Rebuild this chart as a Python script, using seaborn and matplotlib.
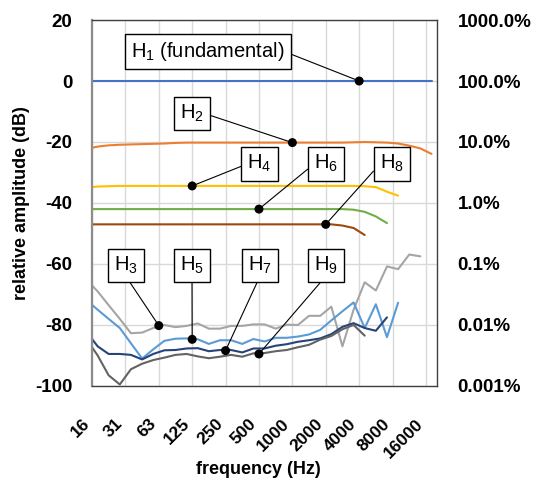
import numpy as np
import pandas as pd
import matplotlib
matplotlib.use("Agg")
import matplotlib.pyplot as plt
from matplotlib.transforms import ScaledTranslation
import seaborn as sns

# ---------------- data ----------------
freq = [16, 18, 22.6, 28.5, 35.9, 45.3, 57, 71.8, 90.5, 114, 143.7, 181, 228, 287,
        362, 456, 575, 724, 912, 1149, 1448, 1825, 2299, 2896, 3649, 4598, 5793,
        7298, 9195, 11585, 14596, 18390]

H1 = [0, 0, 0, 0, 0, 0, 0, 0, 0, 0, 0, 0, 0, 0, 0, 0, 0, 0, 0, 0, 0, 0, 0, 0,
      0, 0, 0, 0, 0, 0, 0, 0]
H2 = [-21.9, -21.5, -21.1, -20.9, -20.8, -20.7, -20.6, -20.5, -20.3, -20.2, -20.2,
      -20.2, -20.2, -20.2, -20.2, -20.2, -20.2, -20.2, -20.2, -20.2, -20.2, -20.2,
      -20.2, -20.2, -20.1, -20.0, -20.1, -20.2, -20.5, -21.2, -22.1, -23.9]
H4 = [-34.8, -34.6, -34.5, -34.4, -34.4, -34.4, -34.4, -34.4, -34.4, -34.4, -34.4,
      -34.4, -34.4, -34.4, -34.4, -34.4, -34.4, -34.4, -34.4, -34.4, -34.4, -34.4,
      -34.4, -34.4, -34.4, -34.5, -34.8, -36.3, -37.6]
H6 = [-42.0, -42.0, -42.0, -42.0, -42.0, -42.0, -42.0, -42.0, -42.0, -42.0, -42.0,
      -42.0, -42.0, -42.0, -42.0, -42.0, -42.0, -42.0, -42.0, -42.0, -42.0, -42.0,
      -42.0, -42.0, -42.2, -42.9, -44.4, -46.6]
H8 = [-47.0, -47.0, -47.0, -47.0, -47.0, -47.0, -47.0, -47.0, -47.0, -47.0, -47.0,
      -47.0, -47.0, -47.0, -47.0, -47.0, -47.0, -47.0, -47.0, -47.0, -47.0, -47.0,
      -47.0, -47.4, -48.2, -50.5]
H3 = [-67.0, -69.0, -73.5, -78.0, -82.7, -82.5, -81.0, -80.0, -80.7, -80.3, -79.5,
      -81.2, -81.2, -80.3, -80.3, -79.8, -79.8, -81.2, -79.9, -80.0, -77.0, -77.0,
      -74.0, -87.0, -75.0, -66.0, -68.7, -60.8, -61.7, -56.9, -57.5]
H5 = [-73.4, -75.0, -78.0, -81.0, -86.0, -91.0, -88.0, -85.2, -84.5, -84.4, -84.7,
      -86.2, -85.0, -85.0, -86.2, -84.6, -85.4, -84.2, -84.2, -83.8, -83.1, -81.6,
      -78.5, -75.5, -72.6, -81.0, -73.2, -84.0, -72.7]
H7 = [-84.6, -87.0, -89.5, -89.5, -89.8, -91.3, -89.5, -88.3, -88.2, -87.7, -87.6,
      -88.6, -88.2, -88.2, -89.0, -87.7, -87.7, -86.8, -86.3, -85.5, -85.0, -84.4,
      -83.0, -80.6, -79.4, -81.0, -81.9, -77.5]
H9 = [-87.3, -90.0, -96.5, -99.5, -94.5, -92.7, -91.5, -90.7, -89.8, -89.5, -90.3,
      -90.9, -90.4, -89.8, -90.4, -89.3, -89.2, -88.6, -88.2, -87.3, -86.5, -84.8,
      -83.6, -81.4, -80.0, -83.5]

series_names = ["H1", "H2", "H4", "H6", "H8", "H3", "H5", "H7", "H9"]
series_vals = [H1, H2, H4, H6, H8, H3, H5, H7, H9]
colors = ["#4472C4", "#ED7D31", "#FFC000", "#70AD47", "#9E480E",
          "#A5A5A5", "#5B9BD5", "#264478", "#636363"]

# annotation labels, anchor points (frequency, dB)
ann_labels = ["H$_1$ (fundamental)", "H$_2$", "H$_4$", "H$_6$", "H$_8$",
              "H$_3$", "H$_5$", "H$_7$", "H$_9$"]
ann_freq = [4096, 1024, 128, 512, 2048, 64, 128, 256, 512]
ann_db = [0, -20.2, -34.4, -42.0, -47.0, -80.2, -84.7, -88.4, -89.5]

xtick_vals = [16, 32, 64, 128, 256, 512, 1024, 2048, 4096, 8192, 16384]
xtick_labels = ["16", "31", "63", "125", "250", "500", "1000", "2000", "4000",
                "8000", "16000"]
ytick_vals = [20, 0, -20, -40, -60, -80, -100]
ytick_labels = ["20", "0", "-20", "-40", "-60", "-80", "-100"]
pct_labels = ["1000.0%", "100.0%", "10.0%", "1.0%", "0.1%", "0.01%", "0.001%"]

# ---------------- layout / style ----------------
box_pos = [(0.3365, 0.9134), (0.2901, 0.7451), (0.486, 0.607), (0.6794, 0.607),
           (0.8703, 0.607), (0.098, 0.3292), (0.2901, 0.3292), (0.4874, 0.3292),
           (0.6783, 0.3292)]
rel_pos = [(1, 0.5), (1, 0.5), (0, 0.5), (0, 0.5), (0, 0.5),
           (0.5, 0), (0.5, 0), (0.5, 0), (0.5, 0)]

sns.set_theme(style="white")
plt.rcParams["font.family"] = ["Liberation Sans", "DejaVu Sans"]
plt.rcParams["mathtext.default"] = "regular"

frames = []
for name, vals in zip(series_names, series_vals):
    frames.append(pd.DataFrame({"freq": freq[:len(vals)], "dB": vals,
                                "harmonic": name}))
df = pd.concat(frames, ignore_index=True)

fig = plt.figure(figsize=(5.33, 4.82), dpi=100)
ax = fig.add_axes([0.1726, 0.1992, 0.6467, 0.7593])

sns.lineplot(data=df, x="freq", y="dB", hue="harmonic", hue_order=series_names,
             palette=colors, estimator=None, sort=False, linewidth=1.5,
             legend=False, ax=ax)

ax.set_xscale("log")
ax.set_xlim(16, 20480)
ax.set_ylim(-100, 20)
ax.set_xticks(xtick_vals)
ax.set_xticklabels(xtick_labels)
ax.minorticks_off()
ax.set_yticks(ytick_vals)
ax.set_yticklabels(ytick_labels)
ax.grid(True, color="#d9d9d9", linewidth=1.0)
ax.set_axisbelow(True)

ax.tick_params(axis="x", length=0, pad=25.5, colors="black")
ax.tick_params(axis="y", length=0, pad=14, colors="black")

shift = ScaledTranslation(-0.05, 0, fig.dpi_scale_trans)
for lab in ax.get_xticklabels():
    lab.set_rotation(45)
    lab.set_ha("right")
    lab.set_va("center")
    lab.set_rotation_mode("anchor")
    lab.set_fontweight("bold")
    lab.set_fontsize(12.5)
    lab.set_transform(lab.get_transform() + shift)
for lab in ax.get_yticklabels():
    lab.set_fontweight("bold")
    lab.set_fontsize(13.5)

for side in ["top", "right", "bottom"]:
    ax.spines[side].set_color("#404040")
    ax.spines[side].set_linewidth(1.0)
ax.spines["left"].set_color("#8c8c8c")
ax.spines["left"].set_linewidth(1.6)

ax.set_xlabel("frequency (Hz)", fontsize=13, fontweight="bold", color="black")
ax.set_ylabel("relative amplitude (dB)", fontsize=13, fontweight="bold",
              color="black")
ax.xaxis.set_label_coords(0.4816, -0.205)
ax.yaxis.set_label_coords(-0.18, 0.5)

ax2 = ax.twinx()
ax2.set_ylim(-100, 20)
ax2.set_yticks(ytick_vals)
ax2.set_yticklabels(pct_labels)
for lab in ax2.get_yticklabels():
    lab.set_fontweight("bold")
    lab.set_fontsize(13.5)
ax2.tick_params(axis="y", length=0, pad=15, colors="black")
for s in ax2.spines.values():
    s.set_visible(False)
ax2.grid(False)

sns.scatterplot(x=ann_freq, y=ann_db, color="black", s=42, edgecolor="none",
                zorder=6, ax=ax, legend=False)

for lab, fx, fy, bp, rp in zip(ann_labels, ann_freq, ann_db, box_pos, rel_pos):
    ax.annotate(lab, xy=(fx, fy), xycoords="data", xytext=bp,
                textcoords="axes fraction", ha="center", va="center",
                fontsize=14.5, color="black", zorder=7,
                bbox=dict(boxstyle="square,pad=0.3", fc="white", ec="black",
                          lw=1.0),
                arrowprops=dict(arrowstyle="-", color="black", lw=0.8,
                                relpos=rp, shrinkA=0, shrinkB=0))

fig.savefig("out.png", dpi=100)
